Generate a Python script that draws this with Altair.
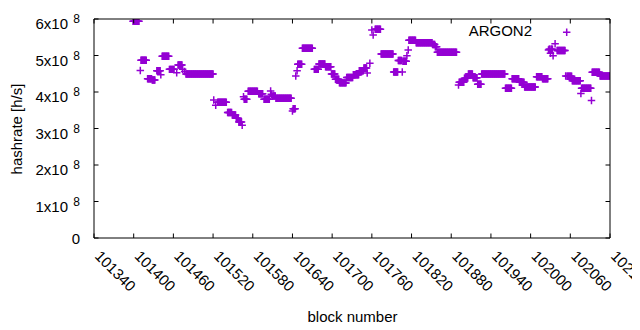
import altair as alt
import pandas as pd

# ---- data (hashrate values in units of 1e8 h/s, run-length by block range) ----
seg_start = [101399, 101410, 101411, 101421, 101428, 101435, 101441, 101443, 101454, 101465,
             101467, 101474, 101477, 101479, 101521, 101524, 101527, 101542, 101549, 101555,
             101559, 101564, 101566, 101567, 101573, 101589, 101597, 101607, 101608, 101610,
             101615, 101640, 101641, 101645, 101647, 101648, 101655, 101673, 101680, 101690,
             101699, 101705, 101711, 101722, 101732, 101741, 101748, 101753, 101757, 101760,
             101762, 101765, 101774, 101793, 101800, 101806, 101807, 101813, 101815, 101816,
             101827, 101852, 101856, 101859, 101891, 101892, 101900, 101906, 101913, 101920,
             101926, 101962, 101972, 101983, 101991, 102009, 102018, 102027, 102028, 102030,
             102031, 102034, 102037, 102040, 102053, 102055, 102063, 102076, 102077, 102092,
             102093, 102105]
seg_end = [101408, 101410, 101419, 101427, 101432, 101440, 101441, 101453, 101461, 101465,
           101473, 101474, 101477, 101520, 101521, 101524, 101540, 101548, 101554, 101558,
           101563, 101564, 101566, 101571, 101587, 101595, 101605, 101607, 101608, 101614,
           101638, 101640, 101644, 101645, 101647, 101654, 101670, 101679, 101689, 101698,
           101704, 101710, 101721, 101731, 101740, 101747, 101752, 101753, 101757, 101760,
           101762, 101773, 101792, 101799, 101805, 101806, 101812, 101813, 101815, 101826,
           101851, 101855, 101858, 101888, 101891, 101899, 101905, 101912, 101919, 101925,
           101961, 101971, 101982, 101990, 102007, 102017, 102026, 102027, 102029, 102030,
           102033, 102034, 102037, 102052, 102053, 102062, 102075, 102076, 102091, 102092,
           102104, 102120]
seg_value = [5.94, 4.59, 4.87, 4.36, 4.33, 4.58, 4.47, 4.98, 4.62, 4.53,
             4.74, 4.62, 4.56, 4.49, 3.78, 3.64, 3.72, 3.44, 3.37, 3.28,
             3.18, 3.09, 3.87, 3.80, 4.02, 3.95, 3.80, 4.03, 3.94, 3.89,
             3.83, 3.48, 3.54, 4.44, 4.58, 4.76, 5.20, 4.62, 4.77, 4.69,
             4.49, 4.35, 4.25, 4.40, 4.47, 4.58, 4.66, 4.52, 4.79, 5.70,
             5.56, 5.72, 5.04, 4.55, 4.86, 4.55, 4.84, 4.99, 5.15, 5.42,
             5.35, 5.30, 5.24, 5.09, 4.19, 4.27, 4.38, 4.49, 4.39, 4.21,
             4.49, 4.10, 4.36, 4.27, 4.14, 4.42, 4.36, 5.15, 5.17, 5.06,
             5.17, 4.99, 5.32, 5.14, 4.44, 4.43, 4.31, 3.96, 4.10, 3.77,
             4.54, 4.44]

x_ticks = [101340, 101400, 101460, 101520, 101580, 101640, 101700, 101760,
           101820, 101880, 101940, 102000, 102060, 102120]
y_ticks = [0, 1e8, 2e8, 3e8, 4e8, 5e8, 6e8]
y_base = ["0", "1x10", "2x10", "3x10", "4x10", "5x10", "6x10"]
y_exp = ["", "8", "8", "8", "8", "8", "8"]
series_name = "ARGON2"

rows = []
for s, e, v in zip(seg_start, seg_end, seg_value):
    for b in range(s, e + 1):
        rows.append({"block": b, "hashrate": v * 1e8})
df = pd.DataFrame(rows)

W, H = 516, 219
FONT = "Liberation Sans"
FS = 15
PURPLE = "#9400D3"
PLUS = "M-1,0L1,0M0,-1L0,1"

xscale = alt.Scale(domain=[x_ticks[0], x_ticks[-1]], nice=False, zero=False)
yscale = alt.Scale(domain=[0, 6e8], nice=False)

xaxis = alt.Axis(
    values=x_ticks, format="d", labelAngle=45, labelAlign="left", labelBaseline="middle",
    labelPadding=15, labelOffset=3, ticks=False, domain=False, grid=False, labelFont=FONT,
    labelFontSize=FS, labelColor="black", labelOverlap=False, labelFlush=False,
    title="block number", titleFont=FONT, titleFontSize=FS, titleFontWeight="normal",
    titleColor="black", titlePadding=15)
yaxis = alt.Axis(
    labels=False, ticks=False, domain=False, grid=False,
    title="hashrate [h/s]", titleFont=FONT, titleFontSize=FS, titleFontWeight="normal",
    titleColor="black", titlePadding=70)

points = alt.Chart(df).mark_point(
    shape=PLUS, filled=False, size=56, strokeWidth=1.5, color=PURPLE, opacity=1, clip=True
).encode(
    x=alt.X("block:Q", scale=xscale, axis=xaxis),
    y=alt.Y("hashrate:Q", scale=yscale, axis=yaxis),
)

xt = pd.DataFrame({"t": x_ticks})
yt = pd.DataFrame({"v": y_ticks, "base": y_base, "exp": y_exp})
TL = 4.5

xtick_bottom = alt.Chart(xt).mark_rule(color="black", strokeWidth=1).encode(
    x=alt.X("t:Q", scale=xscale, axis=xaxis), y=alt.value(H), y2=alt.value(H - TL))
xtick_top = alt.Chart(xt).mark_rule(color="black", strokeWidth=1).encode(
    x=alt.X("t:Q", scale=xscale, axis=xaxis), y=alt.value(0), y2=alt.value(TL))
ytick_left = alt.Chart(yt).mark_rule(color="black", strokeWidth=1).encode(
    y=alt.Y("v:Q", scale=yscale, axis=yaxis), x=alt.value(0), x2=alt.value(TL))
ytick_right = alt.Chart(yt).mark_rule(color="black", strokeWidth=1).encode(
    y=alt.Y("v:Q", scale=yscale, axis=yaxis), x=alt.value(W - TL), x2=alt.value(W))

ylab_base = alt.Chart(yt).transform_filter("datum.exp != ''").mark_text(
    align="right", baseline="middle", font=FONT, fontSize=FS, color="black", dy=5
).encode(y=alt.Y("v:Q", scale=yscale, axis=yaxis), x=alt.value(-26), text="base:N")
ylab_zero = alt.Chart(yt).transform_filter("datum.exp == ''").mark_text(
    align="right", baseline="middle", font=FONT, fontSize=FS, color="black", dy=1
).encode(y=alt.Y("v:Q", scale=yscale, axis=yaxis), x=alt.value(-14), text="base:N")
ylab_exp = alt.Chart(yt).transform_filter("datum.exp != ''").mark_text(
    align="right", baseline="middle", font=FONT, fontSize=12, color="black", dy=0
).encode(y=alt.Y("v:Q", scale=yscale, axis=yaxis), x=alt.value(-14), text="exp:N")

key_df = pd.DataFrame({"name": [series_name]})
key_text = alt.Chart(key_df).mark_text(
    align="right", baseline="middle", font=FONT, fontSize=FS, color="black"
).encode(x=alt.value(438), y=alt.value(12), text="name:N")
key_pt = alt.Chart(key_df).mark_point(
    shape=PLUS, filled=False, size=56, strokeWidth=1.5, color=PURPLE, opacity=1
).encode(x=alt.value(472.7), y=alt.value(13.3))

border = alt.Chart(key_df).mark_rect(
    fillOpacity=0, stroke="black", strokeWidth=1
).encode(x=alt.value(0), x2=alt.value(W), y=alt.value(0), y2=alt.value(H))

chart = alt.layer(
    points, xtick_bottom, xtick_top, ytick_left, ytick_right,
    ylab_base, ylab_zero, ylab_exp, key_text, key_pt, border
).properties(
    width=W, height=H,
    autosize=alt.AutoSizeParams(type="none"),
    padding={"left": 86, "top": 11, "right": 22, "bottom": 92},
    background="white",
).configure_view(stroke=None)

chart.save("out.html", embed_options={"renderer": "svg", "actions": False})
